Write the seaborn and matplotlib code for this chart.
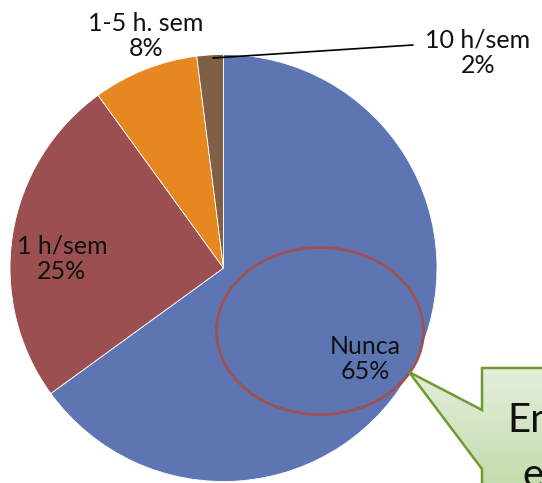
import numpy as np
import matplotlib
matplotlib.use("Agg")
import matplotlib.pyplot as plt
from matplotlib.patches import Ellipse, Polygon
import seaborn as sns

categories = ['Nunca', '1 h/sem', '1-5 h. sem', '10 h/sem']
shares = [65, 25, 8, 2]
colors = ['#5D75B3', '#9C4F50', '#E6871F', '#7F6044']

sns.set_theme(style="white")
plt.rcParams['font.family'] = ['Lato', 'DejaVu Sans']

W, H = 542, 483
fig = plt.figure(figsize=(W / 100, H / 100), dpi=100)
ax = fig.add_axes([0, 0, 1, 1])

# pie in pixel coordinates (y up)
cx, cy, r = 223.5, H - 268, 213.5
ax.pie(shares, colors=colors, startangle=90, counterclock=False,
       center=(cx, cy), radius=r, frame=True,
       wedgeprops=dict(linewidth=0.6, edgecolor='white'))

# data labels
label_pos = [(365, 359), (62, 259), (146, 36), (478, 53)]
for cat, val, (x, y) in zip(categories, shares, label_pos):
    ax.text(x, H - y, f"{cat}\n{val}%", ha='center', va='center',
            fontsize=18, color='#111111', linespacing=1.12)

# leader line for the small slice
ax.plot([213, 413], [H - 58, H - 45], color='black', lw=1.2)

# highlight ellipse
ax.add_patch(Ellipse((320, H - 331), 207, 167, fill=False,
                     edgecolor='#A0514F', lw=2))

# callout box with gradient (light at top, greener below)
pts = [(409, 372), (482, 410), (482, 368), (560, 368), (560, 500),
       (482, 500), (482, 469)]
poly = Polygon([(x, H - y) for x, y in pts], closed=True, facecolor='none',
               edgecolor='#6E9A2F', lw=1.8, zorder=4)
grad = np.linspace(0, 1, 256).reshape(-1, 1)
cmap = matplotlib.colors.LinearSegmentedColormap.from_list('g', ['#BFDAA8', '#E4EEDC'])
img = ax.imshow(grad, cmap=cmap, extent=(405, 560, H - 368, H - 500),
                origin='upper', aspect='auto', zorder=3)
ax.add_patch(poly)
img.set_clip_path(poly)
ax.text(507, H - 432, "En", fontsize=29, color='#111111',
        ha='left', va='baseline', zorder=5)
ax.text(522, H - 487, "e", fontsize=29, color='#111111',
        ha='left', va='baseline', zorder=5)

ax.set_xlim(0, W)
ax.set_ylim(0, H)
ax.set_aspect('equal')
ax.axis('off')

fig.savefig('out.png', dpi=100)
